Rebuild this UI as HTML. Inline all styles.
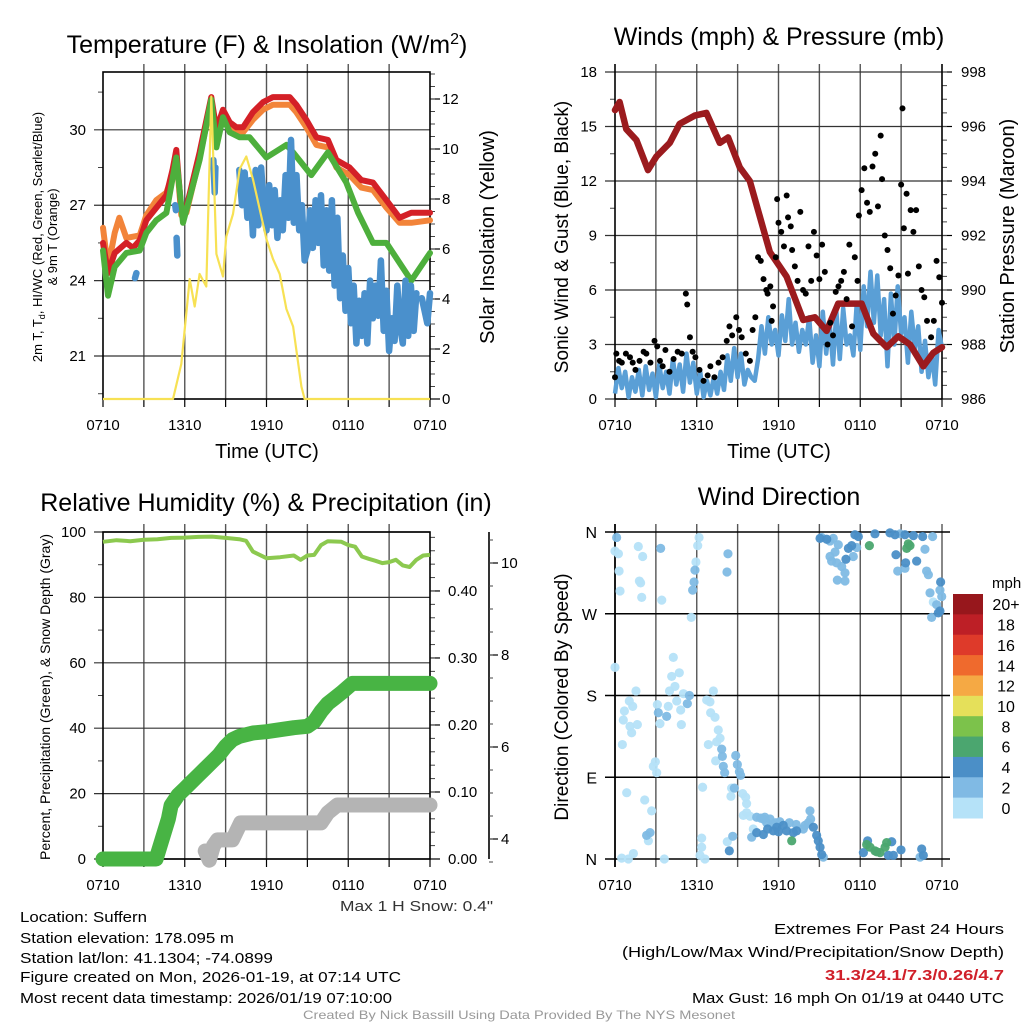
<!DOCTYPE html>
<html><head><meta charset="utf-8">
<style>
html,body{margin:0;padding:0;background:#fff;}
svg{display:block;font-family:"Liberation Sans",sans-serif;}
</style></head>
<body>
<svg id="fig" width="1024" height="1024" viewBox="0 0 1024 1024" xmlns="http://www.w3.org/2000/svg">
<rect x="0" y="0" width="1024" height="1024" fill="#fff"/>
<text x="267" y="53" font-size="25" text-anchor="middle">Temperature (F) &amp; Insolation (W/m<tspan dy="-9" font-size="16">2</tspan><tspan dy="9">)</tspan></text>
<text x="779" y="45" font-size="25" text-anchor="middle">Winds (mph) &amp; Pressure (mb)</text>
<text x="266" y="511" font-size="25" text-anchor="middle">Relative Humidity (%) &amp; Precipitation (in)</text>
<text x="779" y="505" font-size="25" text-anchor="middle">Wind Direction</text>

<text x="267" y="458" font-size="20" text-anchor="middle">Time (UTC)</text>
<text x="779" y="458" font-size="20" text-anchor="middle">Time (UTC)</text>

<text transform="translate(42,237) rotate(-90)" font-size="13" text-anchor="middle">2m T, T<tspan dy="3" font-size="9">d</tspan><tspan dy="-3">, HI/WC (Red, Green, Scarlet/Blue)</tspan></text>
<text transform="translate(57,237) rotate(-90)" font-size="13" text-anchor="middle">&amp; 9m T (Orange)</text>
<text transform="translate(494,237) rotate(-90)" font-size="20" text-anchor="middle">Solar Insolation (Yellow)</text>
<text transform="translate(568,237) rotate(-90)" font-size="19" text-anchor="middle">Sonic Wind &amp; Gust (Blue, Black)</text>
<text transform="translate(1014,236) rotate(-90)" font-size="20" text-anchor="middle">Station Pressure (Maroon)</text>
<text transform="translate(50,697) rotate(-90)" font-size="14" text-anchor="middle">Percent, Precipitation (Green), &amp; Snow Depth (Gray)</text>
<text transform="translate(568,697) rotate(-90)" font-size="19" text-anchor="middle">Direction (Colored By Speed)</text>

<text x="340" y="911" font-size="15" textLength="153" lengthAdjust="spacingAndGlyphs" fill="#333">Max 1 H Snow: 0.4"</text>
<g font-size="15">
<text x="20" y="922" textLength="127" lengthAdjust="spacingAndGlyphs">Location: Suffern</text>
<text x="20" y="943" textLength="214" lengthAdjust="spacingAndGlyphs">Station elevation: 178.095 m</text>
<text x="20" y="963" textLength="253" lengthAdjust="spacingAndGlyphs">Station lat/lon: 41.1304; -74.0899</text>
<text x="20" y="982" textLength="381" lengthAdjust="spacingAndGlyphs">Figure created on Mon, 2026-01-19, at 07:14 UTC</text>
<text x="20" y="1003" textLength="372" lengthAdjust="spacingAndGlyphs">Most recent data timestamp: 2026/01/19 07:10:00</text>
</g>
<g font-size="15">
<text x="774" y="934" textLength="230" lengthAdjust="spacingAndGlyphs">Extremes For Past 24 Hours</text>
<text x="622" y="957" textLength="382" lengthAdjust="spacingAndGlyphs">(High/Low/Max Wind/Precipitation/Snow Depth)</text>
<text x="825" y="980" font-weight="bold" fill="#d0202a" textLength="179" lengthAdjust="spacingAndGlyphs">31.3/24.1/7.3/0.26/4.7</text>
<text x="692" y="1003" textLength="312" lengthAdjust="spacingAndGlyphs">Max Gust: 16 mph On 01/19 at 0440 UTC</text>
</g>
<text x="303" y="1019" font-size="12" fill="#999" textLength="432" lengthAdjust="spacingAndGlyphs">Created By Nick Bassill Using Data Provided By The NYS Mesonet</text>
<g id="plots"></g>
</svg>
<script>
// ---------- data ----------
const timeTickHours = [0,3,6,9,12,15,18,21,24];
const timeTickLabels = ["0710","","1310","","1910","","0110","","0710"];
const tempTicks = [21,24,27,30];
const solarTicks = [0,2,4,6,8,10,12];
const windTicks = [0,3,6,9,12,15,18];
const pressTicks = [986,988,990,992,994,996,998];
const pctTicks = [0,20,40,60,80,100];
const precipTicks = [0,0.1,0.2,0.3,0.4];
const precipTickLabels = ["0.00","0.10","0.20","0.30","0.40"];
const snowTicks = [4,6,8,10];
const dirTicks = [0,90,180,270,360];
const dirTickLabels = ["N","E","S","W","N"];
const speedBins = ["0","2","4","6","8","10","12","14","16","18","20+"];
const speedColors = ["#b5e2f8","#80bae4","#4b8fc7","#4ba66f","#7cc24b","#e5e05a","#f5a944","#ef6a2d","#de3a2a","#bd1f26","#97171c"];

const tempRed = [[0,25.5],[0.37,24.3],[0.86,25.1],[1.71,25.5],[2.2,25.3],[2.69,25.6],[3.18,26.4],[3.91,26.9],[4.65,27.4],[5.1,28.4],[5.38,29.2],[5.75,26.8],[6.12,26.9],[7.09,29.1],[7.95,31.3],[8.32,30.0],[8.81,30.8],[9.3,30.3],[9.79,30.1],[10.28,30.1],[11.0,30.7],[11.74,31.1],[12.48,31.3],[13.7,31.3],[14.19,31.0],[14.92,30.4],[15.66,29.7],[16.51,29.6],[17.13,28.8],[18.1,28.5],[18.96,28.0],[19.82,27.9],[20.8,27.2],[21.77,26.5],[22.63,26.7],[24,26.7]];
const tempOrange = [[0,26.1],[0.37,24.5],[0.86,25.9],[1.2,26.5],[1.71,25.7],[2.69,25.8],[3.18,26.6],[3.91,27.2],[4.65,27.5],[5.1,28.2],[5.38,29.0],[5.75,26.6],[6.12,26.7],[7.09,28.9],[7.95,31.1],[8.32,29.8],[8.81,30.5],[9.3,30.0],[9.79,29.9],[10.28,29.9],[11.0,30.4],[11.74,30.8],[12.48,31.0],[13.7,31.0],[14.19,30.7],[14.92,30.1],[15.66,29.4],[16.51,29.3],[17.13,28.5],[18.1,28.2],[18.96,27.7],[19.82,27.6],[20.8,26.9],[21.77,26.3],[22.63,26.3],[24,26.4]];
const tempGreen = [[0,25.2],[0.37,23.4],[0.86,24.55],[1.71,25.1],[2.69,25.2],[3.18,25.9],[3.91,26.4],[4.65,26.7],[5.38,28.9],[5.87,26.3],[7.09,28.8],[7.95,31.2],[8.32,29.3],[8.81,30.5],[9.3,29.9],[10.03,29.7],[10.76,29.7],[11.99,28.9],[13.46,29.4],[13.95,29.1],[15.29,28.2],[16.51,29.1],[17.86,27.9],[18.72,26.7],[19.82,25.5],[20.8,25.5],[22.63,24.0],[24,25.1]];
const tempBlue = [[2.35,24.1],[2.45,24.3],null,[5.3,27.0],[5.35,26.8],null,[5.4,25.7],[5.45,25.0],null,[8.1,28.8],[8.2,27.5],[8.25,28.5],null,[10.0,28.4],[10.2,27.0],[10.4,28.3],[10.6,26.5],[10.8,28.0],[11.0,25.8],[11.2,28.4],[11.4,26.2],[11.6,28.5],[11.8,27.0],[12.0,26.0],[12.2,27.8],[12.4,26.2],[12.6,27.6],[12.8,25.7],[13.0,27.2],[13.2,26.0],[13.4,28.2],[13.6,26.5],[13.8,29.6],[14.0,26.3],[14.2,28.2],[14.4,26.0],[14.6,27.0],[14.8,24.8],[15.0,25.2],[15.2,26.8],[15.4,25.3],[15.6,27.2],[15.8,25.5],[16.0,27.4],[16.2,24.6],[16.4,26.8],[16.6,24.4],[16.8,27.2],[17.0,23.8],[17.2,26.5],[17.4,23.3],[17.6,25.0],[17.8,22.8],[18.0,24.5],[18.2,22.3],[18.4,23.8],[18.6,21.5],[18.8,23.2],[19.0,21.8],[19.2,23.5],[19.4,21.5],[19.6,24.0],[19.8,22.5],[20.0,23.8],[20.2,22.6],[20.4,24.8],[20.6,22.0],[20.8,23.6],[21.0,21.2],[21.2,22.5],[21.4,21.6],[21.6,23.8],[21.8,22.2],[22.0,21.5],[22.2,24.0],[22.4,21.8],[22.6,23.8],[22.8,22.0],[23.0,23.5],null,[23.4,23.3],[23.6,22.8],[23.8,22.3],[24.0,23.5]];
const solar = [[0,0],[5.14,0],[5.75,1.4],[6.36,4.8],[6.73,3.7],[7.09,5.0],[7.58,4.5],[7.95,12.1],[8.32,5.8],[8.81,4.9],[9.05,6.5],[9.54,7.4],[10.03,9.2],[10.52,9.7],[11.0,8.8],[11.99,6.4],[12.48,5.6],[12.97,5.0],[13.46,3.6],[13.95,2.9],[14.56,0.5],[14.8,0],[24,0]];

const pressure = [[0,996.6],[0.34,996.9],[0.83,995.9],[1.57,995.5],[2.42,994.4],[3.04,994.9],[4.02,995.4],[4.75,996.1],[5.85,996.4],[6.71,996.5],[7.69,995.4],[8.3,995.6],[9.16,994.5],[9.89,994.0],[11.36,991.4],[12.59,990.5],[13.81,988.9],[14.67,989.0],[15.53,988.5],[16.38,989.5],[17.49,989.5],[18.1,989.5],[18.96,988.4],[19.94,987.9],[20.79,988.3],[21.65,988.0],[22.63,987.2],[23.37,987.7],[24,987.9]];
const sonicWind = [0.3,1.7,0.6,1.5,0.1,1.2,0.4,1.6,0.2,1.8,0.5,1.4,0.1,1.9,0.6,1.5,0.3,
2.2,0.8,1.9,0.4,2.5,0.9,2.0,0.3,1.5,0.1,1.0,0.2,
1.2,0.3,1.5,0.5,2.4,1.0,2.8,1.2,2.5,0.8,
1.6,1.2,1.0,2.2,
4.0,2.5,4.5,3.0,3.8,2.4,4.6,3.2,5.5,3.0,4.2,2.6,3.8,3.0,
4.5,2.0,3.5,1.8,4.8,2.5,4.2,1.9,
4.8,2.2,5.0,3.0,3.5,2.4,5.3,2.7,
6.2,4.0,7.0,4.2,6.8,3.5,5.5,1.8,
5.8,3.0,6.2,3.6,4.5,2.0,4.8,2.8,
4.0,1.5,3.2,1.2,2.5,0.8,3.8,2.8];
const gusts = [[0,1.2],[0.1,2.5],[0.3,2.1],[0.5,2.0],[0.8,2.5],[1.1,2.3],[1.3,2.0],[1.5,1.6],[1.8,2.1],[2.1,2.6],[2.3,2.5],[2.6,2.0],[2.9,3.2],[3.1,2.9],[3.3,2.1],[3.5,1.8],[3.7,2.7],[4.0,1.5],[4.3,2.2],[4.6,2.6],[4.9,2.5],[5.2,5.8],[5.3,5.2],[5.5,3.4],[5.7,2.6],[5.9,2.3],[6.2,1.6],[6.5,1.0],[6.8,1.3],[7.0,1.8],[7.3,1.2],[7.6,2.0],[7.9,2.3],[8.2,3.2],[8.4,4.0],[8.6,3.5],[8.9,4.5],[9.1,3.8],[9.3,3.4],[9.6,2.5],[9.9,2.1],[10.1,3.8],[10.3,4.5],[10.5,7.8],[10.7,7.6],[10.9,6.6],[11.1,6.0],[11.2,5.8],[11.4,6.2],[11.5,4.3],[11.6,5.1],[11.8,7.8],[11.9,11.0],[12.0,9.7],[12.2,9.2],[12.4,8.4],[12.6,11.2],[12.7,10.0],[12.9,9.5],[13.0,8.2],[13.2,7.3],[13.4,6.5],[13.6,10.3],[13.8,6.0],[14.0,5.8],[14.2,8.4],[14.4,6.5],[14.6,9.2],[14.8,7.9],[15.0,6.6],[15.2,8.5],[15.4,7.0],[15.6,3.0],[15.8,4.2],[16.0,3.5],[16.2,5.9],[16.4,6.2],[16.6,6.5],[16.8,7.0],[17.0,5.5],[17.2,8.5],[17.4,4.0],[17.6,7.8],[17.8,6.5],[17.9,10.1],[18.1,11.5],[18.3,12.7],[18.5,10.8],[18.7,10.3],[18.9,12.8],[19.1,13.5],[19.3,10.6],[19.5,14.5],[19.6,12.1],[19.8,9.0],[20.0,8.2],[20.2,7.2],[20.4,4.7],[20.6,5.7],[20.8,6.8],[21.0,11.8],[21.1,16.0],[21.2,9.4],[21.4,11.3],[21.5,6.9],[21.7,10.4],[21.9,9.2],[22.1,10.4],[22.3,7.3],[22.5,6.0],[22.7,5.6],[22.9,4.3],[23.2,3.4],[23.4,4.3],[23.6,7.6],[23.8,6.7],[24.0,5.3]];

const rh = [[0,97],[1,97.5],[2,97.2],[3,97.6],[4,97.8],[5,98.2],[6,98.3],[7,98.5],[8,98.6],[9,98.2],[10,97.8],[10.5,97.3],[11,94],[12,92],[13,92.3],[14,92.8],[14.5,91.5],[15,92.8],[15.5,93],[16,96],[16.5,97.2],[17.5,97],[18,96],[18.5,95.5],[19,92.5],[19.5,91.8],[20,91.2],[20.5,90.5],[21,90.8],[21.5,91.5],[22,89.8],[22.5,89.3],[23,91.5],[23.5,92.8],[24,93]];
const precip = [[0,0],[3.9,0],[4.2,0.02],[4.5,0.04],[4.8,0.06],[5.0,0.08],[5.5,0.095],[6.0,0.105],[6.5,0.115],[7.0,0.125],[7.5,0.135],[8.0,0.145],[8.5,0.155],[9.0,0.168],[9.5,0.178],[10.0,0.183],[11.0,0.188],[12.0,0.19],[13.0,0.193],[14.0,0.196],[15.0,0.198],[15.5,0.205],[16.0,0.22],[16.5,0.232],[17.0,0.24],[17.5,0.248],[18.0,0.257],[18.3,0.262],[24,0.262]];
const snowDepth = [[7.5,3.74],[7.8,3.54],[8.1,3.85],[8.4,3.98],[9.5,3.98],[10.1,4.35],[16.0,4.35],[16.5,4.57],[17.2,4.74],[24,4.74]];

// wind direction: [hour, degrees, speed mph]
const windDir = [
[0,339,1],[0.25,336,1],[0.3,317,1],[0.37,295,1],[1.71,344,1],[2.03,333,1],[1.79,306,1],[1.88,304,1],[1.96,288,1],[3.43,285,1],[6.17,354,1],[6.07,345,1],[5.94,327,1],[5.6,266,1],
[0,211,1],[4.28,222,1],[4.72,205,1],[4.16,201,1],[1.54,185,1],[1.05,174,1],[1.3,168,1],[0.69,163,1],[0.61,153,1],[1.1,146,1],[1.64,148,1],[1.22,139,1],[0.54,126,1],[3.11,170,1],[3.3,149,1],[3.91,168,1],[4.53,174,1],[5.02,182,1],[4.82,164,1],[4.87,148,1],[7.22,185,1],[6.73,175,1],[6.97,173,1],[7.02,161,1],[7.34,156,1],[7.58,142,1],[7.71,133,1],[7.46,129,1],[6.85,126,1],[7.39,108,1],[2.96,107,1],[2.81,102,1],[3.06,95,1],
[0.86,73,1],[2.18,65,1],[2.69,53,1],[6.43,79,1],[8.56,78,1],[8.51,69,1],[9.37,72,1],[9.59,68,1],[9.66,61,1],[9.66,51,1],[9.42,48,1],[9.91,47,1],[10.15,33,1],[2.45,20,1],[6.36,23,1],[6.36,13,1],[6.24,4,1],[6.6,0,1],[8.24,19,1],[0.49,1,1],[0.98,0,1],[1.35,6,1],[3.62,0,1],[23.36,283,1],[4.4,190,1],[4.0,185,1],
[0.12,354,3],[3.35,342,3],[5.87,318,3],[5.8,305,3],[5.7,296,3],[8.29,336,3],[8.22,316,3],[3.18,161,3],[3.79,157,3],[5.46,180,3],[5.31,171,3],[7.83,121,3],[7.88,113,3],[7.95,102,3],[8.05,95,3],[8.86,114,3],[8.98,104,3],[9.13,96,3],[9.22,92,3],[8.76,78,3],[10.03,24,3],[10.4,46,3],[10.89,44,3],[11.13,40,3],[11.38,44,3],[11.62,38,3],[10.7,45,3],[11.0,46,3],[11.8,40,3],[12.1,41,3],[12.8,40,3],[13.3,38,3],[13.82,33,3],[13.95,37,3],[14.31,53,3],[14.36,44,3],[14.2,40,3],[15.29,2,3],[2.32,26,3],[2.57,29,3],[8.64,25,3],[22.39,2,3],
[15.17,354,3],[15.78,350,3],[16.02,353,3],[16.39,346,3],[16.15,338,3],[15.78,333,3],[15.9,328,3],[16.27,326,3],[16.64,322,3],[16.88,315,3],[16.88,306,3],[16.32,307,3],[17.49,333,3],[17.74,343,3],[20.92,358,3],[23.31,355,3],[20.75,317,3],[21.28,320,3],[22.75,341,3],[22.87,317,3],[23.0,313,3],[23.12,293,3],[23.61,280,3],[23.24,266,3],[23.98,289,3],[23.85,296,3],
[10.4,29,5],[10.89,27,5],[11.62,31,5],[11.87,35,5],[12.35,37,5],[12.6,31,5],[13.09,29,5],[13.33,31,5],[14.56,35,5],[14.8,26,5],[14.92,20,5],[15.05,13,5],[15.17,5,5],[8.39,9,5],[11.2,33,5],[12.0,30,5],
[18.54,20,5],[18.23,7,5],[20.31,19,5],[20.43,4,5],[20.06,4,5],[20.99,10,5],[22.51,11,5],[22.63,4,5],
[15.05,353,5],[15.54,352,5],[16.95,330,5],[17.13,342,5],[17.37,345,5],[17.61,357,5],[17.86,355,5],[19.08,358,5],[20.18,359,5],[20.55,357,5],[21.28,357,5],[21.9,356,5],[22.58,355,5],[20.62,335,5],[21.33,326,5],[22.14,328,5],[23.85,273,5],[23.73,271,5],[23.9,305,5],
[12.97,20,7],[18.47,16,7],[18.72,13,7],[19.08,9,7],[19.45,7,7],[19.82,13,7],[19.94,18,7],[19.2,8,7],[18.67,345,7],[21.65,345,7],[21.53,347,7],[21.41,342,7]
];

// ---------- helpers ----------
const NS = "http://www.w3.org/2000/svg";
const root = document.getElementById('plots');
function el(tag, attrs, parent){
  const e = document.createElementNS(NS, tag);
  for (const k in attrs) e.setAttribute(k, attrs[k]);
  (parent || root).appendChild(e);
  return e;
}
function linScale(d0,d1,r0,r1){ return v => r0 + (v-d0)/(d1-d0)*(r1-r0); }
function pathFrom(points, sx, sy){
  let d = "", pen = false;
  for (const p of points){
    if (!p){ pen = false; continue; }
    d += (pen ? "L" : "M") + sx(p[0]).toFixed(1) + "," + sy(p[1]).toFixed(1);
    pen = true;
  }
  return d;
}
function hLine(x0,x1,y,stroke,w,parent,name){
  const l = el('line',{x1:x0,x2:x1,y1:y,y2:y,stroke:stroke,'stroke-width':w},parent);
  
  
  return l;
}
function vLine(x,y0,y1,stroke,w,parent,name){
  const l = el('line',{x1:x,x2:x,y1:y0,y2:y1,stroke:stroke,'stroke-width':w},parent);
  
  
  return l;
}
function label(x,y,txt,anchor,size,parent,name){
  const t = el('text',{x:x,y:y,'text-anchor':anchor,'font-size':size},parent);
  t.textContent = txt;
  
  
  return t;
}
function timeAxis(g, sx, y1, labelY, prefix){
  for (let i=0;i<timeTickHours.length;i++){
    const x = sx(timeTickHours[i]);
    vLine(x, y1, y1+8, '#000', 1.2, g, prefix+'-x-tick');
    if (timeTickLabels[i]) label(x, labelY, timeTickLabels[i], 'middle', 15, g, prefix+'-x-tick-label');
  }
}
function vGrid(g, sx, y0, y1, prefix){
  for (let i=1;i<timeTickHours.length-1;i++){
    vLine(sx(timeTickHours[i]), y0-8, y1, '#555', 1.4, g, prefix+'-v-gridline');
  }
}
function minorTicks(g, x, from, to, step, sy, dir, len, prefix){
  for (let v=from; v<=to+1e-9; v+=step){
    const y = sy(v);
    const t = el('line',{x1:x,x2:x+dir*len,y1:y,y2:y,stroke:'#444','stroke-width':1},g);
    
    
  }
}

// ---------- panel 1: temperature ----------
(function(){
  const g = el('g',{});
  
  
  const X0=103, X1=430, Y0=72, Y1=399;
  const sx = linScale(0,24,X0,X1);
  const sy = linScale(19.29,32.3,Y1,Y0);
  const ss = linScale(0,13.08,Y1,Y0);
  vGrid(g, sx, Y0, Y1, 'temp');
  for (const t of tempTicks){
    hLine(X0-9, X1, sy(t), '#333', 1.2, g, 'temp-h-gridline');
    label(86, sy(t)+5, String(t), 'end', 15, g, 'temp-y-tick-label');
  }
  minorTicks(g, X0, 19.5, 31.5, 3, sy, -1, 5, 'temp-left');
  for (const s of solarTicks){
    hLine(X1, X1+10, ss(s), '#000', 1.2, g, 'solar-y-tick');
    label(442, ss(s)+5, String(s), 'start', 15, g, 'solar-y-tick-label');
  }
  minorTicks(g, X1, 0.5, 13, 0.5, ss, 1, 5, 'solar');
  const frame = el('rect',{x:X0,y:Y0,width:X1-X0,height:Y1-Y0,fill:'none',stroke:'#000','stroke-width':1.6},g);
  
  
  timeAxis(g, sx, Y1, 430, 'temp');
  const series = [[tempOrange,'#f2843a',6,'nine-meter-temp-line'],[tempRed,'#d42027',6,'two-meter-temp-line'],[tempGreen,'#4daf3c',6,'dewpoint-line'],[tempBlue,'#4a90cc',6.5,'wind-chill-line']];
  for (const s of series){
    const p = el('path',{d:pathFrom(s[0],sx,sy),fill:'none',stroke:s[1],'stroke-width':s[2],'stroke-linejoin':'round','stroke-linecap':'round'},g);
    
    
  }
  const sp = el('path',{d:pathFrom(solar,sx,ss),fill:'none',stroke:'#f7e154','stroke-width':2.2,'stroke-linejoin':'round'},g);
  
  
})();

// ---------- panel 2: winds & pressure ----------
(function(){
  const g = el('g',{});
  
  
  const X0=615, X1=942, Y0=72, Y1=399;
  const sx = linScale(0,24,X0,X1);
  const sy = linScale(0,18,Y1,Y0);
  const sp = linScale(986,998,Y1,Y0);
  vGrid(g, sx, Y0, Y1, 'wind');
  for (const t of windTicks){
    hLine(X0-10, X1, sy(t), '#333', 1.2, g, 'wind-h-gridline');
    label(597, sy(t)+5, String(t), 'end', 15, g, 'wind-y-tick-label');
  }
  minorTicks(g, X0, 1.5, 16.5, 3, sy, -1, 5, 'wind-left');
  for (const p of pressTicks){
    hLine(X1, X1+10, sp(p), '#000', 1.2, g, 'pressure-y-tick');
    label(961, sp(p)+5, String(p), 'start', 15, g, 'pressure-y-tick-label');
  }
  minorTicks(g, X1, 986.5, 998, 0.5, sp, 1, 5, 'pressure');
  vLine(X0, Y0-8, Y1, '#000', 1.6, g, 'wind-left-axis');
  vLine(X1, Y0-8, Y1, '#000', 1.6, g, 'wind-right-axis');
  hLine(X0, X1, Y1, '#000', 1.6, g, 'wind-bottom-axis');
  timeAxis(g, sx, Y1, 430, 'wind');
  const windPts = sonicWind.map((v,i)=>[i*0.25, v]);
  const wl = el('path',{d:pathFrom(windPts,sx,sy),fill:'none',stroke:'#5a9fd6','stroke-width':4.5,'stroke-linejoin':'round'},g);
  
  
  const pl = el('path',{d:pathFrom(pressure,sx,sp),fill:'none',stroke:'#9b1b1e','stroke-width':6.5,'stroke-linejoin':'round','stroke-linecap':'round'},g);
  
  
  for (const gp of gusts){
    const c = el('circle',{cx:sx(gp[0]),cy:sy(gp[1]),r:3,fill:'#000'},g);
    
    
  }
})();

// ---------- panel 3: humidity & precipitation ----------
(function(){
  const g = el('g',{});
  
  
  const X0=103, X1=430, Y0=532, Y1=859;
  const sx = linScale(0,24,X0,X1);
  const sy = linScale(0,100,Y1,Y0);
  const sr = linScale(0,0.488,Y1,Y0);
  const sn = linScale(4,10,839,563);
  vGrid(g, sx, Y0, Y1, 'rh');
  for (const t of pctTicks){
    hLine(X0-9, X1, sy(t), '#333', 1.2, g, 'rh-h-gridline');
    label(86, sy(t)+5, String(t), 'end', 15, g, 'rh-y-tick-label');
  }
  minorTicks(g, X0, 10, 90, 20, sy, -1, 5, 'rh-left');
  for (let i=0;i<precipTicks.length;i++){
    hLine(X1, X1+10, sr(precipTicks[i]), '#000', 1.2, g, 'precip-y-tick');
    label(448, sr(precipTicks[i])+5, precipTickLabels[i], 'start', 15, g, 'precip-y-tick-label');
  }
  minorTicks(g, X1, 0.02, 0.48, 0.02, sr, 1, 5, 'precip');
  vLine(489, Y0, Y1, '#000', 1.6, g, 'snow-axis-line');
  for (const s of snowTicks){
    hLine(489, 498, sn(s), '#000', 1.2, g, 'snow-y-tick');
    label(501, sn(s)+5, String(s), 'start', 15, g, 'snow-y-tick-label');
  }
  minorTicks(g, 489, 3.5, 10.5, 0.5, sn, 1, 4, 'snow');
  const frame = el('rect',{x:X0,y:Y0,width:X1-X0,height:Y1-Y0,fill:'none',stroke:'#000','stroke-width':1.6},g);
  
  
  timeAxis(g, sx, Y1, 890, 'rh');
  const rl = el('path',{d:pathFrom(rh,sx,sy),fill:'none',stroke:'#8cc94f','stroke-width':4,'stroke-linejoin':'round'},g);
  
  
  const sl = el('path',{d:pathFrom(snowDepth,sx,sn),fill:'none',stroke:'#b4b4b4','stroke-width':15,'stroke-linejoin':'round','stroke-linecap':'round'},g);
  
  
  const pl = el('path',{d:pathFrom(precip,sx,sr),fill:'none',stroke:'#48b444','stroke-width':15,'stroke-linejoin':'round','stroke-linecap':'round'},g);
  
  
})();

// ---------- panel 4: wind direction ----------
(function(){
  const g = el('g',{});
  
  
  const X0=615, X1=942, Y0=532, Y1=859;
  const sx = linScale(0,24,X0,X1);
  const sy = linScale(0,360,Y1,Y0);
  for (let i=1;i<timeTickHours.length;i++){
    vLine(sx(timeTickHours[i]), Y0-8, Y1+8, '#555', 1.4, g, 'dir-v-gridline');
  }
  for (let i=0;i<dirTicks.length;i++){
    hLine(X0-10, X1+8, sy(dirTicks[i]), '#000', 1.4, g, 'dir-h-gridline');
    label(597, sy(dirTicks[i])+6, dirTickLabels[i], 'end', 16, g, 'dir-y-tick-label');
  }
  vLine(X0, Y0-8, Y1+8, '#000', 1.8, g, 'dir-left-axis');
  for (let i=0;i<timeTickHours.length;i++){
    if (timeTickLabels[i]) label(sx(timeTickHours[i]), 890, timeTickLabels[i], 'middle', 15, g, 'dir-x-tick-label');
  }
  for (const d of windDir){
    const idx = Math.min(10, Math.floor(d[2]/2));
    const c = el('circle',{cx:sx(d[0]),cy:sy(d[1]),r:4.6,fill:speedColors[idx],'fill-opacity':0.95},g);
    
    
  }
  // colorbar legend
  const lg = el('g',{},g);
  
  
  label(992, 588, 'mph', 'start', 15, lg, 'legend-title');
  const boxH = (818-594)/speedBins.length;
  for (let i=0;i<speedBins.length;i++){
    const j = speedBins.length-1-i;
    const r = el('rect',{x:953,y:594+i*boxH,width:30,height:boxH+0.5,fill:speedColors[j]},lg);
    
    
    label(1006, 594+i*boxH+boxH/2+6, speedBins[j], 'middle', 16, lg, 'legend-entry-label');
  }
})();
</script>
</body></html>
